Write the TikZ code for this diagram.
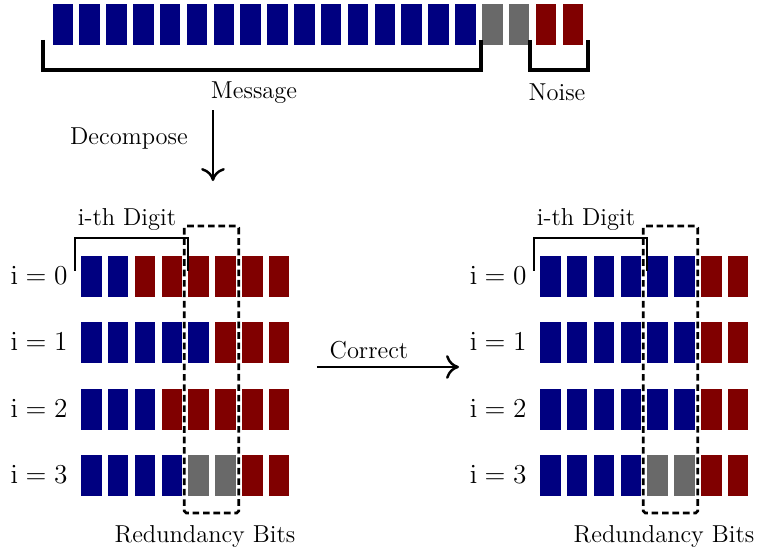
\documentclass[tikz,border=0pt]{standalone}
\usetikzlibrary{arrows.meta}

\definecolor{bitBlue}{HTML}{000080}
\definecolor{bitRed}{HTML}{800000}
\definecolor{bitGray}{HTML}{696969}

\begin{document}
\begin{tikzpicture}[
    lbl/.style={font=\fontsize{12.9pt}{15pt}\selectfont, inner sep=1pt},
    rowlbl/.style={font=\fontsize{14pt}{16pt}\selectfont, inner sep=1pt},
    brace/.style={line width=2.2pt},
    digit/.style={line width=1.1pt},
    redbox/.style={line width=1.4pt, dash pattern=on 3.5pt off 2pt, rounded corners=1pt},
    flow/.style={-{To[length=2.4mm, width=4.4mm]}, line width=1.3pt},
]
\useasboundingbox (0,0) rectangle (14.037,-10.185);
\def\c{0.497}
\def\w{0.38}
\def\h{0.76}
\def\rowgap{1.228}

% Message row: 16 message bits, 2 lost, 2 noise
\foreach \col [count=\j from 0] in {bitBlue,bitBlue,bitBlue,bitBlue,bitBlue,bitBlue,bitBlue,bitBlue,
    bitBlue,bitBlue,bitBlue,bitBlue,bitBlue,bitBlue,bitBlue,bitBlue,bitGray,bitGray,bitRed,bitRed} {
    \fill[\col] ({0.974 + \j*\c}, -0.08) rectangle ++(\w, -\h);
}

% Brackets under the row
\draw[brace] (0.796,-0.74) -- (0.796,-1.296) -- (8.907,-1.296) -- (8.907,-0.74);
\draw[brace] (9.815,-0.74) -- (9.815,-1.296) -- (10.889,-1.296) -- (10.889,-0.74);
\node[lbl] (msg) at (4.704,-1.71) {Message};
\node[lbl] (noise) at (10.315,-1.71) {Noise};

% Decompose
\coordinate (decA) at (3.944,-2.037);
\coordinate (decB) at (3.944,-3.352);
\draw[flow] (decA) -- (decB);
\node[lbl] (decompose) at (2.389,-2.556) {Decompose};

% Left grid: received digits
\foreach \r/\cols in {0/{bitBlue,bitBlue,bitRed,bitRed,bitRed,bitRed,bitRed,bitRed},
                      1/{bitBlue,bitBlue,bitBlue,bitBlue,bitBlue,bitRed,bitRed,bitRed},
                      2/{bitBlue,bitBlue,bitBlue,bitRed,bitRed,bitRed,bitRed,bitRed},
                      3/{bitBlue,bitBlue,bitBlue,bitBlue,bitGray,bitGray,bitRed,bitRed}} {
    \foreach \col [count=\j from 0] in \cols {
        \fill[\col] ({1.5 + \j*\c}, {-4.741 - \r*\rowgap}) rectangle ++(\w, -\h);
    }
    \node[rowlbl] (rowL\r) at (0.725, {-5.10 - \r*\rowgap}) {$\mathrm{i} = \r$};
}
\draw[digit] (1.383,-5.013) -- (1.383,-4.402) -- (3.476,-4.402) -- (3.476,-5.013);
\node[lbl] (digitL) at (2.352,-4.056) {i-th Digit};
\draw[redbox] (3.413,-4.185) rectangle (4.420,-9.5);
\node[lbl] (redL) at (3.796,-9.926) {Redundancy Bits};

% Correct
\coordinate (corA) at (5.87,-6.796);
\coordinate (corB) at (8.5,-6.796);
\draw[flow] (corA) -- (corB);
\node[lbl] (correct) at (6.833,-6.48) {Correct};

% Right grid: corrected digits
\foreach \r/\cols in {0/{bitBlue,bitBlue,bitBlue,bitBlue,bitBlue,bitBlue,bitRed,bitRed},
                      1/{bitBlue,bitBlue,bitBlue,bitBlue,bitBlue,bitBlue,bitRed,bitRed},
                      2/{bitBlue,bitBlue,bitBlue,bitBlue,bitBlue,bitBlue,bitRed,bitRed},
                      3/{bitBlue,bitBlue,bitBlue,bitBlue,bitGray,bitGray,bitRed,bitRed}} {
    \foreach \col [count=\j from 0] in \cols {
        \fill[\col] ({10 + \j*\c}, {-4.741 - \r*\rowgap}) rectangle ++(\w, -\h);
    }
    \node[rowlbl] (rowR\r) at (9.225, {-5.10 - \r*\rowgap}) {$\mathrm{i} = \r$};
}
\draw[digit] (9.883,-5.013) -- (9.883,-4.402) -- (11.976,-4.402) -- (11.976,-5.013);
\node[lbl] (digitR) at (10.852,-4.056) {i-th Digit};
\draw[redbox] (11.913,-4.185) rectangle (12.920,-9.5);
\node[lbl] (redR) at (12.296,-9.926) {Redundancy Bits};

\end{tikzpicture}
\end{document}
